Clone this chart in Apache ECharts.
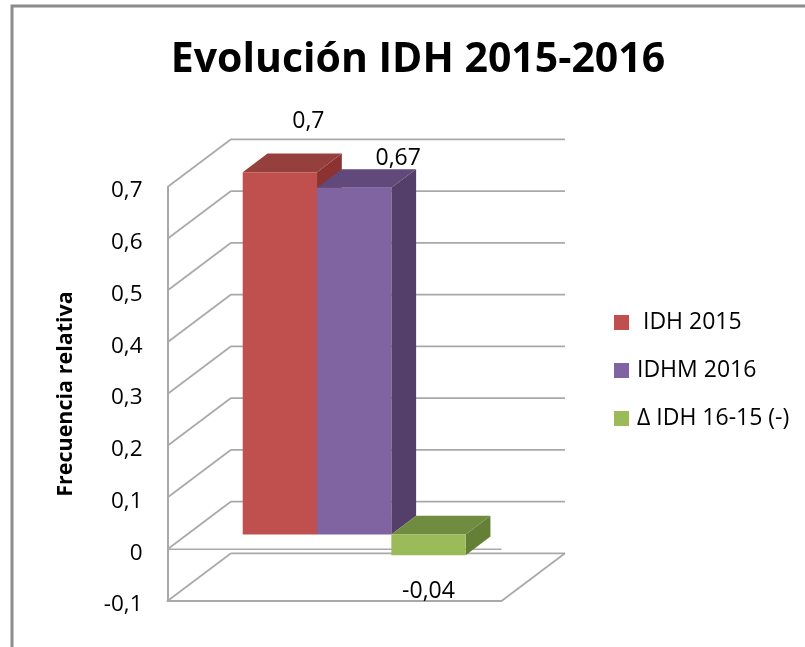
<!DOCTYPE html>
<html>
<head>
<meta charset="utf-8">
<style>
    html, body {margin: 0; padding: 0; background: #fff;}
    #chart {width: 805px; height: 647px;}
</style>
<script src="https://cdn.jsdelivr.net/npm/echarts@6/dist/echarts.min.js"></script>
</head>
<body>
<div id="chart"></div>
<script>
    // datos
    const categories = [''];
    const idh2015 = [0.7];
    const idhm2016 = [0.67];
    const deltaIdh = [-0.04];
    const yTicks = [-0.1, 0, 0.1, 0.2, 0.3, 0.4, 0.5, 0.6, 0.7];
    const seriesNames = [' IDH 2015', 'IDHM 2016', 'Δ IDH 16-15 (-)'];

    const fontName = '"Open Sans"';
    const lineGray = '#a9a9a9';

    // profundidad del "3D"
    const wallDx = 63.5;
    const wallDy = 47.7;
    const barStart = 0.31;   // donde empieza la barra dentro de la profundidad
    const barDepth = 0.39;
    const barRatio = 0.2225; // ancho de cada barra / ancho de la categoria

    const faceColors = ['#c0504d', '#8064a2', '#9bbb59'];
    const topColors = ['#96403d', '#614a7b', '#6f8c40'];
    const sideColors = ['#8c3331', '#533f69', '#648037'];
    const labelOffsets = [[28.5, -51], [44, -29.5], [0, 36]];

    const fmt = v => String(v).replace('.', ',');

    const line = (x1, y1, x2, y2) => ({
        type: 'line',
        shape: {x1, y1, x2, y2},
        style: {stroke: lineGray, lineWidth: 1.7}
    });

    const poly = (points, fill) => ({
        type: 'polygon',
        shape: {points},
        style: {fill}
    });

    // pared lateral, fondo y piso
    const renderWall = (params, api) => {
        const v = api.value(0);
        const size = api.size([1, 0]);
        const p = api.coord([0, v]);
        const x0 = p[0] - size[0] / 2;
        const x1 = p[0] + size[0] / 2;
        const y = p[1];
        const children = [
            line(x0, y, x0 + wallDx, y - wallDy),
            line(x0 + wallDx, y - wallDy, x1 + wallDx, y - wallDy)
        ];
        if (v === 0) {
            children.push(line(x0, y, x1, y));
        }
        if (v === yTicks[0]) {
            children.push(line(x1, y, x1 + wallDx, y - wallDy));
        }
        return {type: 'group', children};
    };

    const renderBar = idx => (params, api) => {
        const v = api.value(1);
        const size = api.size([1, 0]);
        const w = size[0] * barRatio;
        const center = api.coord([0, 0])[0];
        const ox = wallDx * barStart;
        const oy = wallDy * barStart;
        const dx = wallDx * barDepth;
        const dy = wallDy * barDepth;
        const x0 = center + (idx - 1.5) * w + ox;
        const x1 = x0 + w;
        const yTop = api.coord([0, Math.max(v, 0)])[1] - oy;
        const yBot = api.coord([0, Math.min(v, 0)])[1] - oy;
        const yVal = api.coord([0, v])[1] - oy;
        return {
            type: 'group',
            children: [
                poly([[x1, yTop], [x1 + dx, yTop - dy], [x1 + dx, yBot - dy], [x1, yBot]], sideColors[idx]),
                poly([[x0, yTop], [x0 + dx, yTop - dy], [x1 + dx, yTop - dy], [x1, yTop]], topColors[idx]),
                {type: 'rect', shape: {x: x0, y: yTop, width: w, height: yBot - yTop}, style: {fill: faceColors[idx]}},
                {
                    type: 'text',
                    z2: 10,
                    style: {
                        x: (x0 + x1) / 2 + labelOffsets[idx][0],
                        y: yVal + labelOffsets[idx][1],
                        text: fmt(v),
                        fill: '#000',
                        font: '23px ' + fontName,
                        align: 'center',
                        verticalAlign: 'middle'
                    }
                }
            ]
        };
    };

    const barSeries = (idx, values) => ({
        name: seriesNames[idx],
        type: 'custom',
        z: 3 + idx,
        clip: false,
        itemStyle: {color: faceColors[idx]},
        encode: {x: 0, y: 1},
        data: values.map((v, i) => [i, v]),
        renderItem: renderBar(idx)
    });

    const myChart = echarts.init(document.getElementById('chart'), null, {renderer: 'canvas'});

    myChart.setOption({
        backgroundColor: '#fff',
        animation: false,
        title: {
            text: 'Evolución IDH 2015-2016',
            left: 413,
            textAlign: 'center',
            top: 35,
            textStyle: {
                fontFamily: fontName,
                fontWeight: 'bold',
                fontSize: 41,
                color: '#000'
            }
        },
        legend: {
            orient: 'vertical',
            left: 614,
            top: 311,
            padding: 0,
            itemWidth: 15,
            itemHeight: 15,
            itemGap: 25,
            selectedMode: false,
            icon: 'rect',
            data: seriesNames,
            textStyle: {
                fontFamily: fontName,
                fontSize: 23,
                color: '#000',
                padding: [0, 0, 0, 3]
            }
        },
        grid: {
            left: 167.5,
            top: 187,
            width: 334,
            height: 414,
            containLabel: false
        },
        xAxis: {
            type: 'category',
            data: categories,
            axisTick: {show: false},
            axisLabel: {show: false},
            axisLine: {
                onZero: false,
                lineStyle: {color: lineGray, width: 2}
            },
            splitLine: {show: false}
        },
        yAxis: {
            type: 'value',
            min: -0.1,
            max: 0.7,
            interval: 0.1,
            name: 'Frecuencia relativa',
            nameLocation: 'middle',
            nameGap: 91,
            nameRotate: 90,
            nameTextStyle: {
                fontFamily: fontName,
                fontWeight: 'bold',
                fontSize: 21.5,
                color: '#000'
            },
            axisTick: {show: false},
            axisLine: {
                show: true,
                onZero: false,
                lineStyle: {color: lineGray, width: 2}
            },
            splitLine: {show: false},
            axisLabel: {
                margin: 25,
                fontFamily: fontName,
                fontSize: 22.5,
                color: '#000',
                verticalAlign: 'top',
                lineHeight: 8,
                formatter: v => fmt(v)
            }
        },
        graphic: [{
            type: 'polyline',
            silent: true,
            shape: {points: [[12, 647], [12, 6], [805, 6]]},
            style: {stroke: '#8c8c8c', fill: null, lineWidth: 3}
        }],
        series: [
            {
                name: 'paredes',
                type: 'custom',
                z: 1,
                clip: false,
                silent: true,
                encode: {y: 0},
                data: yTicks.map(v => [v]),
                renderItem: renderWall
            },
            barSeries(0, idh2015),
            barSeries(1, idhm2016),
            barSeries(2, deltaIdh)
        ]
    });
</script>
</body>
</html>
